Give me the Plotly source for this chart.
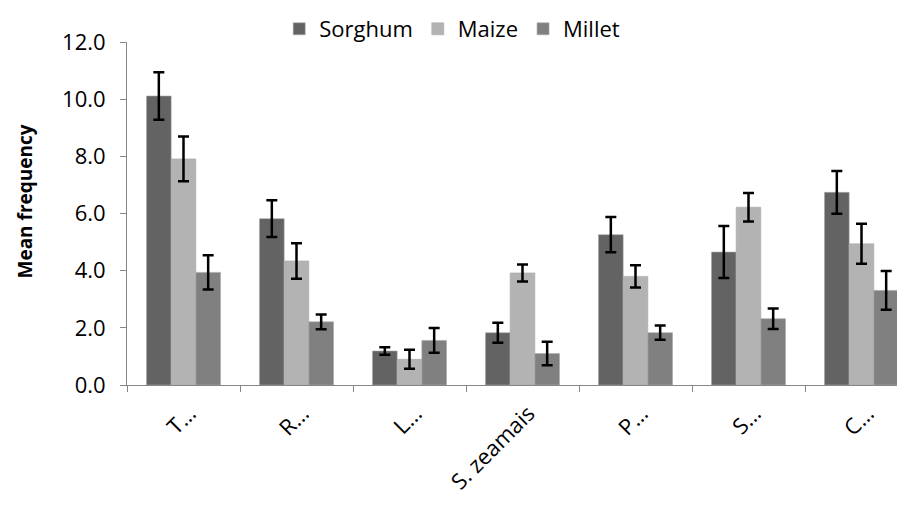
import plotly.graph_objects as go

categories = ["T…", "R…", "L…", "S. zeamais", "P…", "S…", "C…"]
sorghum = [10.11, 5.82, 1.19, 1.83, 5.26, 4.65, 6.74]
sorghum_err = [0.83, 0.64, 0.13, 0.35, 0.62, 0.91, 0.75]
maize = [7.91, 4.34, 0.90, 3.92, 3.80, 6.22, 4.94]
maize_err = [0.78, 0.62, 0.33, 0.30, 0.39, 0.50, 0.70]
millet = [3.94, 2.21, 1.56, 1.10, 1.83, 2.32, 3.31]
millet_err = [0.60, 0.26, 0.43, 0.41, 0.25, 0.36, 0.68]
y_ticks = [0, 2, 4, 6, 8, 10, 12]

series = [("Sorghum", sorghum, sorghum_err, "#636363"),
          ("Maize", maize, maize_err, "#b3b3b3"),
          ("Millet", millet, millet_err, "#808080")]

fig = go.Figure()
for name, vals, errs, col in series:
    fig.add_trace(go.Bar(
        x=categories, y=vals, name=name,
        marker=dict(color=col, line=dict(color="#a8a8a8", width=0.6)),
        error_y=dict(type="data", array=errs, visible=True,
                     color="black", thickness=2.5, width=5.5),
    ))

font = "'Open Sans', sans-serif"
fig.update_layout(
    width=897, height=499,
    margin=dict(l=119, r=0, t=34, b=122, autoexpand=False),
    paper_bgcolor="white", plot_bgcolor="white",
    barmode="group", bargap=0.345, bargroupgap=0,
    font=dict(family=font, size=22, color="black"),
    legend=dict(orientation="h", x=0.418, xanchor="center",
                yref="container", y=1.0, yanchor="top",
                font=dict(size=22), itemwidth=30, traceorder="normal"),
    showlegend=True,
    annotations=[dict(text="<b>Mean frequency</b>", xref="paper", yref="paper",
                      x=0, y=0.535, xshift=-117, xanchor="left", textangle=-90,
                      showarrow=False, font=dict(size=19, color="black"))],
)
fig.update_xaxes(
    type="category", range=[-0.5, 6.385], automargin=False,
    showline=True, linecolor="#868686", linewidth=1,
    ticks="outside", tickson="boundaries", ticklen=6, tickcolor="#868686",
    tickangle=-45, tickfont=dict(size=22), showgrid=False,
    ticklabelshift=6, ticklabelstandoff=6,
)
fig.update_yaxes(
    range=[0, 12], tickvals=y_ticks, tickformat=".1f", automargin=False,
    showline=True, linecolor="#868686", linewidth=1,
    ticks="outside", ticklen=6, tickcolor="#868686",
    showgrid=False, zeroline=False, tickfont=dict(size=22),
    ticklabelstandoff=10,
)
fig.write_html("out.html")
